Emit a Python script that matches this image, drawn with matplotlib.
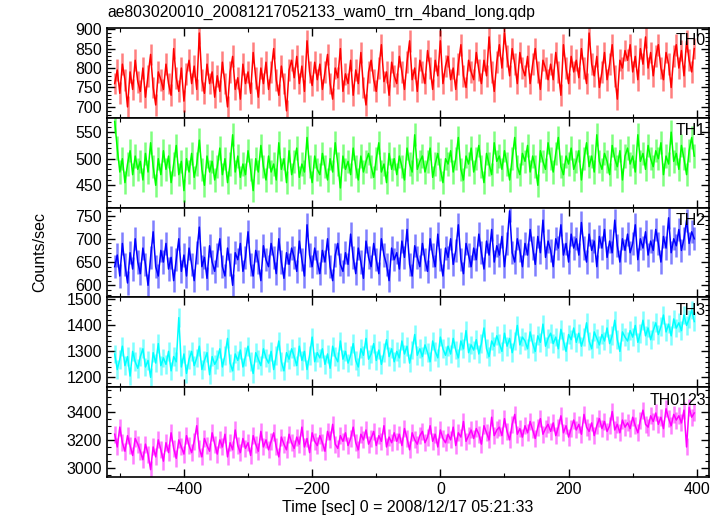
import numpy as np
import matplotlib
matplotlib.use("Agg")
import matplotlib.pyplot as plt
from matplotlib.ticker import MultipleLocator

title = "ae803020010_20081217052133_wam0_trn_4band_long.qdp"
xlabel = "Time [sec] 0 = 2008/12/17 05:21:33"
ylabel = "Counts/sec"
bands = ["TH0", "TH1", "TH2", "TH3", "TH0123"]
colors = ["#ff0000", "#00ff00", "#0000ff", "#00ffff", "#ff00ff"]

t_start, t_step = -508, 4

th0 = [760, 795, 735, 810, 770, 700, 790, 745, 820, 765,
       740, 800, 725, 780, 835, 750, 705, 790, 770, 745,
       810, 760, 730, 850, 775, 740, 800, 715, 785, 820,
       760, 805, 745, 890, 770, 735, 810, 760, 790, 725,
       780, 740, 815, 760, 700, 790, 830, 745, 775, 720,
       810, 760, 790, 735, 840, 775, 725, 800, 760, 815,
       745, 790, 850, 770, 730, 805, 760, 690, 795, 820,
       775, 830, 760, 805, 740, 870, 790, 755, 815, 770,
       810, 745, 790, 835, 760, 720, 800, 775, 850, 740,
       785, 760, 820, 730, 795, 760, 840, 750, 705, 790,
       820, 770, 740, 800, 860, 765, 790, 730, 815, 780,
       760, 830, 790, 745, 815, 870, 770, 800, 740, 820,
       790, 760, 845, 800, 745, 820, 780, 870, 760, 805,
       830, 770, 800, 745, 810, 860, 780, 750, 820, 790,
       770, 840, 795, 760, 820, 780, 880, 790, 740, 815,
       860, 800, 890, 830, 780, 850, 810, 760, 840, 800,
       780, 830, 760, 810, 850, 790, 745, 820, 800, 770,
       810, 770, 840, 790, 730, 860, 800, 760, 830, 790,
       820, 775, 850, 800, 760, 890, 810, 780, 830, 750,
       790, 840, 770, 810, 860, 780, 720, 820, 800, 845,
       820, 860, 790, 830, 770, 850, 810, 880, 800, 840,
       780, 830, 860, 800, 770, 840, 810, 750, 830, 860,
       800, 845, 780, 870, 820, 790, 850]

th1 = [570, 520, 475, 500, 455, 490, 515, 470, 505, 480,
       495, 460, 510, 475, 530, 485, 450, 500, 470, 515,
       480, 505, 455, 490, 525, 470, 495, 440, 500, 475,
       510, 465, 490, 535, 480, 450, 505, 475, 495, 460,
       485, 520, 470, 500, 455, 490, 545, 475, 505, 465,
       490, 470, 515, 480, 440, 500, 475, 525, 485, 460,
       505, 475, 490, 460, 530, 480, 500, 455, 515, 470,
       495, 520, 465, 490, 475, 540, 485, 455, 505, 480,
       470, 510, 485, 460, 500, 475, 530, 490, 445, 505,
       480, 495, 470, 520, 485, 460, 505, 475, 495, 510,
       485, 465, 500, 530, 475, 490, 455, 510, 480, 500,
       470, 505, 485, 460, 520, 490, 475, 545, 480, 495,
       505, 475, 495, 520, 465, 490, 510, 480, 455, 500,
       490, 515, 475, 500, 540, 480, 460, 505, 490, 520,
       475, 500, 525, 485, 455, 510, 490, 470, 530, 495,
       505, 480, 515, 490, 460, 500, 540, 485, 470, 510,
       495, 525, 475, 505, 485, 450, 515, 495, 480, 530,
       500, 475, 510, 540, 485, 470, 505, 490, 520, 480,
       495, 515, 460, 500, 530, 485, 505, 475, 545, 495,
       480, 510, 495, 470, 525, 500, 485, 515, 460, 505,
       520, 490, 505, 475, 545, 495, 510, 480, 525, 500,
       485, 515, 500, 530, 470, 505, 490, 550, 495, 510,
       480, 525, 500, 470, 515, 540, 505]

th2 = [640, 665, 620, 690, 645, 605, 670, 635, 700, 650,
       625, 680, 645, 600, 660, 715, 640, 620, 675, 650,
       690, 635, 660, 610, 655, 700, 630, 665, 620, 680,
       645, 610, 670, 725, 640, 660, 615, 685, 650, 630,
       665, 700, 640, 620, 680, 645, 600, 670, 655, 690,
       630, 660, 715, 645, 620, 675, 650, 610, 685, 655,
       640, 690, 660, 625, 700, 650, 615, 670, 645, 680,
       660, 630, 695, 655, 620, 730, 665, 640, 680, 650,
       625, 675, 650, 700, 640, 610, 665, 690, 645, 630,
       670, 645, 710, 660, 625, 680, 650, 615, 695, 660,
       640, 690, 655, 625, 700, 665, 645, 610, 680, 655,
       670, 635, 695, 660, 720, 645, 620, 685, 660, 640,
       690, 655, 630, 700, 665, 640, 710, 655, 620, 680,
       660, 700, 645, 675, 730, 655, 625, 690, 665, 640,
       680, 655, 710, 670, 635, 695, 665, 720, 650, 685,
       665, 705, 640, 690, 760, 670, 650, 700, 675, 640,
       690, 665, 720, 680, 645, 705, 670, 740, 660, 695,
       675, 640, 700, 680, 730, 665, 690, 650, 710, 680,
       700, 665, 735, 680, 650, 710, 675, 695, 640, 705,
       680, 720, 660, 695, 670, 740, 685, 650, 700, 675,
       710, 670, 690, 730, 655, 700, 680, 715, 665, 695,
       675, 720, 690, 650, 705, 680, 745, 670, 700, 685,
       720, 675, 700, 740, 690, 715, 700]

th3 = [1290, 1230, 1270, 1320, 1245, 1280, 1205, 1300, 1260, 1235,
       1280, 1310, 1240, 1265, 1200, 1295, 1255, 1330, 1245, 1275,
       1250, 1300, 1225, 1280, 1260, 1430, 1240, 1290, 1215, 1270,
       1300, 1245, 1275, 1320, 1230, 1265, 1295, 1210, 1280, 1250,
       1270, 1310, 1240, 1285, 1350, 1255, 1225, 1290, 1265, 1305,
       1240, 1280, 1320, 1260, 1215, 1295, 1270, 1245, 1310, 1275,
       1255, 1300, 1230, 1285, 1340, 1260, 1225, 1295, 1270, 1310,
       1280, 1245, 1320, 1265, 1300, 1230, 1285, 1355, 1260, 1295,
       1275, 1310, 1250, 1290, 1235, 1320, 1280, 1260, 1340, 1270,
       1300, 1255, 1285, 1330, 1265, 1240, 1310, 1285, 1350, 1270,
       1290, 1330, 1265, 1305, 1250, 1295, 1345, 1280, 1310, 1260,
       1300, 1275, 1340, 1290, 1320, 1255, 1305, 1365, 1285, 1310,
       1280, 1325, 1295, 1260, 1340, 1300, 1275, 1355, 1310, 1285,
       1320, 1290, 1350, 1305, 1275, 1340, 1310, 1380, 1295, 1325,
       1305, 1345, 1290, 1330, 1390, 1310, 1280, 1340, 1320, 1360,
       1330, 1300, 1370, 1320, 1350, 1295, 1340, 1400, 1325, 1355,
       1340, 1310, 1375, 1330, 1300, 1360, 1335, 1405, 1320, 1350,
       1370, 1330, 1355, 1310, 1385, 1340, 1300, 1365, 1345, 1390,
       1335, 1370, 1320, 1355, 1410, 1340, 1310, 1375, 1350, 1325,
       1365, 1340, 1390, 1330, 1360, 1420, 1345, 1300, 1375, 1355,
       1340, 1380, 1355, 1400, 1335, 1370, 1420, 1360, 1390, 1345,
       1380, 1410, 1365, 1395, 1440, 1375, 1405, 1360, 1425, 1390,
       1410, 1380, 1440, 1400, 1425, 1460, 1415]

th0123 = [3240, 3150, 3290, 3180, 3120, 3230, 3160, 3090, 3210, 3170,
          3120, 3060, 3170, 3100, 2990, 3150, 3080, 3200, 3130, 3050,
          3180, 3110, 3250, 3140, 3070, 3200, 3150, 3100, 3230, 3160,
          3110, 3190, 3300, 3140, 3080, 3210, 3160, 3120, 3250, 3170,
          3100, 3200, 3150, 3240, 3080, 3180, 3130, 3270, 3160, 3110,
          3210, 3140, 3180, 3090, 3230, 3170, 3120, 3260, 3150, 3200,
          3130, 3190, 3250, 3150, 3080, 3220, 3170, 3130, 3240, 3180,
          3140, 3220, 3170, 3290, 3150, 3210, 3110, 3250, 3190, 3160,
          3230, 3180, 3120, 3260, 3200, 3310, 3170, 3140, 3230, 3190,
          3250, 3160, 3210, 3290, 3180, 3130, 3240, 3200, 3270, 3170,
          3210, 3260, 3160, 3230, 3190, 3300, 3150, 3220, 3180, 3250,
          3190, 3240, 3160, 3280, 3210, 3130, 3250, 3200, 3170, 3230,
          3260, 3180, 3220, 3300, 3190, 3240, 3150, 3270, 3210, 3180,
          3240, 3200, 3290, 3160, 3250, 3220, 3330, 3190, 3230, 3270,
          3210, 3280, 3240, 3170, 3300, 3250, 3200, 3360, 3230, 3270,
          3290, 3230, 3350, 3260, 3200, 3310, 3380, 3240, 3280, 3220,
          3300, 3250, 3330, 3270, 3210, 3290, 3350, 3240, 3280, 3310,
          3260, 3320, 3230, 3290, 3370, 3250, 3300, 3220, 3280, 3340,
          3270, 3310, 3240, 3380, 3290, 3260, 3320, 3230, 3300, 3350,
          3280, 3330, 3260, 3300, 3400, 3270, 3310, 3250, 3340, 3290,
          3320, 3280, 3360, 3300, 3250, 3340, 3410, 3310, 3290, 3370,
          3330, 3390, 3310, 3360, 3280, 3420, 3350, 3300, 3380, 3340,
          3370, 3320, 3410, 3150, 3430, 3360, 3390]

errors = [28, 22, 25, 36, 60]
ylims = [(672, 903), (408, 577), (574, 767), (1162, 1508), (2938, 3572)]
yticks = [[700, 750, 800, 850, 900], [450, 500, 550], [600, 650, 700, 750],
          [1200, 1300, 1400, 1500], [3000, 3200, 3400]]
yminor = [10, 10, 10, 20, 50]
xlim = (-520, 419)

series = [th0, th1, th2, th3, th0123]

plt.rcParams['font.family'] = ['Liberation Sans', 'DejaVu Sans']
fig = plt.figure(figsize=(7.24, 5.16), dpi=100)
left, right, top, bottom = 107/724, 709/724, 1 - 28/516, 1 - 477/516
axes = fig.subplots(5, 1, sharex=True, gridspec_kw=dict(hspace=0))
fig.subplots_adjust(left=left, right=right, top=top, bottom=bottom)

for ax, vals, name, col, err, yl, yt, mi in zip(axes, series, bands, colors, errors, ylims, yticks, yminor):
    vals = np.asarray(vals, dtype=float)
    t = t_start + t_step * np.arange(len(vals))
    ax.vlines(t, vals - err, vals + err, color=col, alpha=0.5, lw=1.8)
    ax.plot(t, vals, color=col, lw=1.1)
    ax.set_ylim(*yl)
    ax.set_xlim(*xlim)
    ax.set_yticks(yt)
    ax.yaxis.set_minor_locator(MultipleLocator(mi))
    ax.xaxis.set_major_locator(MultipleLocator(200))
    ax.xaxis.set_minor_locator(MultipleLocator(100))
    ax.tick_params(which='both', direction='in', top=True, right=True, labelsize=11.5)
    ax.tick_params(which='major', length=6, width=1)
    ax.tick_params(which='minor', length=3, width=0.8)
    for s in ax.spines.values():
        s.set_linewidth(1.2)
    ax.text(0.995, 0.94, name, transform=ax.transAxes, ha='right', va='top', fontsize=11.5)

axes[-1].set_xlabel(xlabel, fontsize=11.5, labelpad=2)
fig.text(0.055, (top + bottom) / 2, ylabel, rotation=90, ha='center', va='center', fontsize=11.5)
fig.text(left, 0.975, title, ha='left', va='center', fontsize=11.3)

fig.savefig("out.png", dpi=100)
